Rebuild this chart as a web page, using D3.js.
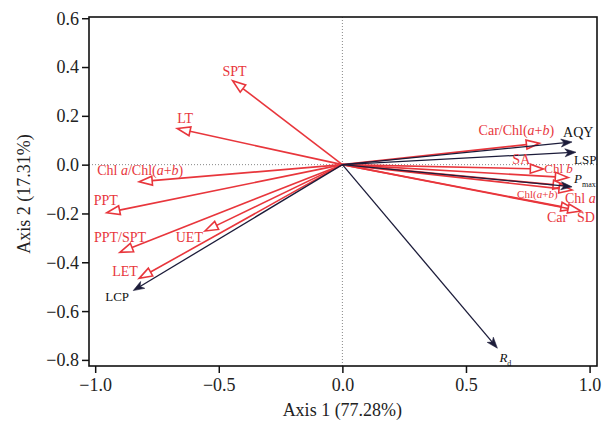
<!DOCTYPE html>
<html>
<head>
<meta charset="utf-8">
<script src="https://cdn.jsdelivr.net/npm/d3@7"></script>
<style>
  body { margin: 0; background: #fff; }
  svg { display: block; font-family: "Liberation Serif", "DejaVu Serif", serif; }
</style>
</head>
<body>
<div id="chart"></div>
<script>
// trait loadings (red vectors)
const traitNames = ["SPT", "LT", "Chl *a*/Chl(*a*+*b*)", "PPT", "PPT/SPT", "UET", "LET",
                    "Car/Chl(*a*+*b*)", "SA", "Chl *b*", "Chl(*a*+*b*)", "Chl *a*", "Car", "SD"];
const traitX = [-0.444, -0.668, -0.822, -0.953, -0.900, -0.556, -0.822,
                0.797, 0.813, 0.914, 0.905, 0.929, 0.937, 0.965];
const traitY = [0.344, 0.148, -0.070, -0.197, -0.359, -0.272, -0.466,
                0.088, -0.018, -0.053, -0.087, -0.104, -0.182, -0.190];

// photosynthesis parameters (black vectors)
const photoNames = ["LCP", "*R*_d", "AQY", "LSP", "*P*_max"];
const photoX = [-0.846, 0.627, 0.929, 0.945, 0.929];
const photoY = [-0.516, -0.752, 0.093, 0.051, -0.091];

const xTicks = [-1.0, -0.5, 0.0, 0.5, 1.0];
const yTicks = [0.6, 0.4, 0.2, 0.0, -0.2, -0.4, -0.6, -0.8];
const xTitle = "Axis 1 (77.28%)";
const yTitle = "Axis 2 (17.31%)";

// label placement relative to arrow tip: [dx, dy, anchor, font size]
const labelPos = {
    "SPT": [2, -5, "middle", 14],
    "LT": [8, -6, "middle", 14],
    "Chl *a*/Chl(*a*+*b*)": [-42, -7, "start", 14],
    "PPT": [-13, -8, "start", 14],
    "PPT/SPT": [-26, -10, "start", 14],
    "UET": [-2, 11, "end", 14],
    "LET": [-27, -2, "start", 14],
    "Car/Chl(*a*+*b*)": [-23, -8, "middle", 14],
    "SA": [-31, -5, "start", 14],
    "Chl *b*": [-24, -5, "start", 13],
    "Chl(*a*+*b*)": [-49, 12, "start", 11],
    "Chl *a*": [-7, 13, "start", 14],
    "Car": [-27, 13, "start", 14],
    "SD": [-4, 11, "start", 14],
    "LCP": [-28, 10, "start", 13],
    "*R*_d": [2, 14, "start", 13],
    "AQY": [-9, -5, "start", 14],
    "LSP": [-2, 12, "start", 13],
    "*P*_max": [2, -4, "start", 13]
};

document.addEventListener('DOMContentLoaded', () => {
    const W = 609, H = 425;
    const red = "#e8363c", navy = "#1c1c3a";

    const svg = d3.select("#chart").append("svg")
        .attr("width", W)
        .attr("height", H);

    const x = d3.scaleLinear().domain([-1.025, 1.03]).range([89, 597]);
    const y = d3.scaleLinear().domain([-0.825, 0.605]).range([366, 17]);

    // reference lines through origin
    svg.append("line")
        .attr("x1", x(0)).attr("x2", x(0))
        .attr("y1", y.range()[1]).attr("y2", y.range()[0])
        .attr("stroke", "#888").attr("stroke-width", 1)
        .attr("stroke-dasharray", "1,2");
    svg.append("line")
        .attr("x1", x.range()[0]).attr("x2", x.range()[1])
        .attr("y1", y(0)).attr("y2", y(0))
        .attr("stroke", "#888").attr("stroke-width", 1)
        .attr("stroke-dasharray", "1,2");

    // axes
    const fmt = d => d3.format(".1f")(d).replace("-", "\u2212");
    const xAxis = d3.axisBottom(x).tickValues(xTicks).tickSize(7).tickSizeOuter(0).tickFormat(fmt);
    const yAxis = d3.axisLeft(y).tickValues(yTicks).tickSize(7).tickSizeOuter(0).tickFormat(fmt);

    const gx = svg.append("g").attr("transform", `translate(0,${y.range()[0]})`).call(xAxis);
    const gy = svg.append("g").attr("transform", `translate(${x.range()[0]},0)`).call(yAxis);
    [gx, gy].forEach(g => {
        g.select(".domain").remove();
        g.selectAll(".tick line").attr("stroke", "#111").attr("stroke-width", 1.5);
        g.selectAll(".tick text").attr("fill", "#222")
            .style("font-family", "Liberation Serif").style("font-size", "18px");
    });
    gx.selectAll(".tick text").attr("dy", "0.85em");
    gy.selectAll(".tick text").attr("x", -10).attr("dy", "0.33em");

    svg.append("rect")
        .attr("x", x.range()[0]).attr("y", y.range()[1])
        .attr("width", x.range()[1] - x.range()[0])
        .attr("height", y.range()[0] - y.range()[1])
        .attr("fill", "none").attr("stroke", "#111").attr("stroke-width", 1.6);

    svg.append("text")
        .attr("x", x(0)).attr("y", 416)
        .attr("text-anchor", "middle")
        .style("font-size", "18px").attr("fill", "#222")
        .text(xTitle);
    svg.append("text")
        .attr("transform", `translate(30,${y(-0.12)}) rotate(-90)`)
        .attr("text-anchor", "middle")
        .style("font-size", "18px").attr("fill", "#222")
        .text(yTitle);

    const ox = x(0), oy = y(0);

    function drawVector(px, py, color, open) {
        const ang = Math.atan2(py - oy, px - ox);
        const len = open ? 13 : 11, hw = open ? 4.5 : 4;
        const bx = px - len * Math.cos(ang), by = py - len * Math.sin(ang);
        const nx = -Math.sin(ang), ny = Math.cos(ang);
        svg.append("line")
            .attr("x1", ox).attr("y1", oy)
            .attr("x2", open ? bx : px - 4 * Math.cos(ang))
            .attr("y2", open ? by : py - 4 * Math.sin(ang))
            .attr("stroke", color).attr("stroke-width", open ? 1.6 : 1.3);
        if (open) {
            svg.append("path")
                .attr("d", `M${px},${py}L${bx + hw * nx},${by + hw * ny}L${bx - hw * nx},${by - hw * ny}Z`)
                .attr("fill", "#fff").attr("stroke", color).attr("stroke-width", 1.6);
        } else {
            const mx = px - (len - 3) * Math.cos(ang), my = py - (len - 3) * Math.sin(ang);
            svg.append("path")
                .attr("d", `M${px},${py}L${bx + hw * nx},${by + hw * ny}L${mx},${my}L${bx - hw * nx},${by - hw * ny}Z`)
                .attr("fill", color).attr("stroke", color).attr("stroke-width", 0.6);
        }
    }

    function drawLabel(name, px, py, color) {
        const [dx, dy, anchor, fs] = labelPos[name];
        const t = svg.append("text")
            .attr("x", px + dx).attr("y", py + dy)
            .attr("text-anchor", anchor)
            .attr("fill", color)
            .style("font-size", fs + "px");
        name.split(/(\*[^*]+\*|_\w+)/).filter(s => s.length).forEach(s => {
            if (s[0] === "*") {
                t.append("tspan").style("font-style", "italic").text(s.slice(1, -1));
            } else if (s[0] === "_") {
                t.append("tspan").attr("dy", 4).style("font-size", (fs - 5) + "px").text(s.slice(1));
            } else {
                t.append("tspan").text(s);
            }
        });
    }

    traitNames.forEach((n, i) => drawVector(x(traitX[i]), y(traitY[i]), red, true));
    photoNames.forEach((n, i) => drawVector(x(photoX[i]), y(photoY[i]), navy, false));
    traitNames.forEach((n, i) => drawLabel(n, x(traitX[i]), y(traitY[i]), red));
    photoNames.forEach((n, i) => drawLabel(n, x(photoX[i]), y(photoY[i]), "#111"));
});
</script>
</body>
</html>
